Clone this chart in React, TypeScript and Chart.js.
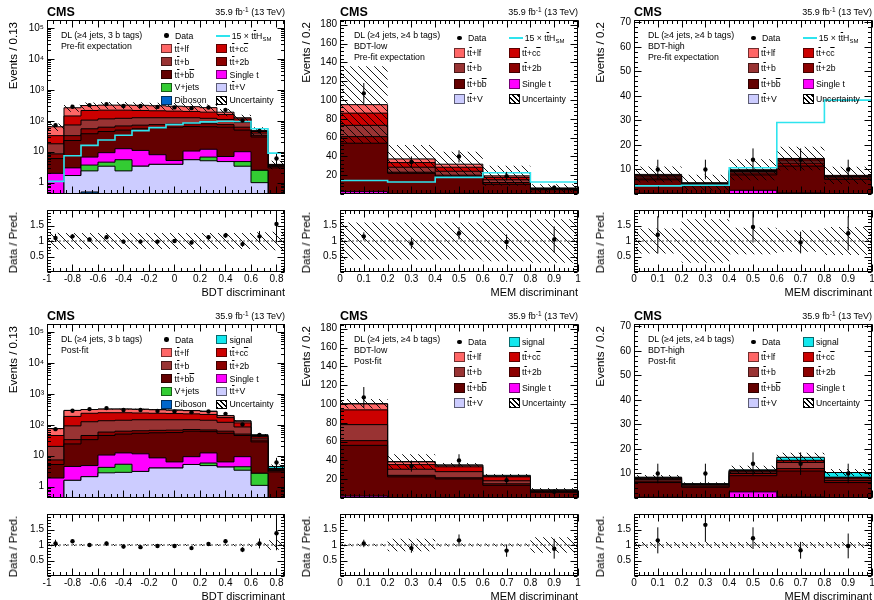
import React, { useEffect, useRef } from 'react';
import { Chart, registerables } from 'chart.js';

Chart.register(...registerables);

const FONT = '"Liberation Sans", Arial, Helvetica, sans-serif';

// ---------------- binning & axis ticks ----------------
const BDT_EDGES = [-1, -0.8667, -0.7333, -0.6, -0.4667, -0.3333, -0.2, -0.0667, 0.0667, 0.2, 0.3333, 0.4667, 0.6, 0.7333, 0.8667];
const MEM_EDGES = [0, 0.2, 0.4, 0.6, 0.8, 1.0];
const BDT_TICKS = [-1, -0.8, -0.6, -0.4, -0.2, 0, 0.2, 0.4, 0.6, 0.8];
const BDT_TICK_LABELS = ['-1', '-0.8', '-0.6', '-0.4', '-0.2', '0', '0.2', '0.4', '0.6', '0.8'];
const MEM_TICKS = [0, 0.1, 0.2, 0.3, 0.4, 0.5, 0.6, 0.7, 0.8, 0.9, 1];
const MEM_TICK_LABELS = ['0', '0.1', '0.2', '0.3', '0.4', '0.5', '0.6', '0.7', '0.8', '0.9', '1'];
const LOG_TICKS = [1, 10, 100, 1000, 10000, 100000];
const LOG_TICK_LABELS = ['1', '10', '10²', '10³', '10⁴', '10⁵'];
const LOW_TICKS = [20, 40, 60, 80, 100, 120, 140, 160, 180];
const LOW_TICK_LABELS = ['20', '40', '60', '80', '100', '120', '140', '160', '180'];
const HIGH_TICKS = [10, 20, 30, 40, 50, 60, 70];
const HIGH_TICK_LABELS = ['10', '20', '30', '40', '50', '60', '70'];
const RATIO_TICKS = [0.5, 1, 1.5];
const RATIO_TICK_LABELS = ['0.5', '1', '1.5'];

// ---------------- 3 b-tag category (BDT, 14 bins) ----------------
const DATA3B = [72, 285, 320, 345, 300, 300, 280, 270, 255, 268, 225, 102, 47, 6];
const DATA3B_ERR = [8.5, 17, 18, 18.5, 17, 17, 17, 16.5, 16, 16.5, 15, 10, 7, 2.5];

const PRE3B_DIBOSON = [0, 0, 0.5, 0, 0, 0, 0, 0, 0, 0, 0, 0, 0, 0];
const PRE3B_TTV = [0, 1.7, 1.9, 3.4, 2.4, 3.4, 3.9, 3.9, 5.5, 5.1, 4.8, 3.4, 1.0, 0];
const PRE3B_VJETS = [0, 0, 1.3, 1.2, 3.1, 0, 0, 0, 0, 1.6, 0, 1.4, 1.5, 0];
const PRE3B_SINGLET = [2.0, 1.3, 3.0, 4.7, 7.0, 7.6, 4.1, 1.3, 5.0, 5.3, 2.2, 5.2, 0, 0];
const PRE3B_TTBB = [4.0, 20, 31.3, 35.7, 37.5, 44, 50, 56.8, 54.5, 52, 55, 40, 27.5, 3.0];
const PRE3B_TT2B = [2.5, 10, 17, 17, 18, 17, 17, 16, 15, 16, 13, 12, 4, 0.3];
const PRE3B_TTB = [9.5, 40, 50, 53, 52, 53, 50, 47, 45, 40, 35, 28, 6, 0.3];
const PRE3B_TTCC = [15, 70, 110, 105, 100, 90, 85, 80, 75, 70, 50, 25, 5, 0.2];
const PRE3B_TTLF = [31, 120, 95, 100, 100, 100, 95, 90, 85, 75, 29, 10, 3, 0.1];
const PRE3B_TTH15 = [1.1, 7.4, 16, 24, 34, 48, 60, 75, 85, 92, 96, 95, 55, 9];
const PRE3B_UNC = [0.27, 0.26, 0.26, 0.26, 0.26, 0.26, 0.26, 0.26, 0.26, 0.26, 0.26, 0.26, 0.28, 0.3];
const PRE3B_RATIO = [1.1, 1.15, 1.05, 1.12, 0.98, 0.98, 0.98, 1.0, 0.95, 1.12, 1.18, 0.9, 1.15, 1.55];
const PRE3B_RATIO_ERR = [0.13, 0.07, 0.06, 0.06, 0.06, 0.06, 0.06, 0.06, 0.06, 0.07, 0.08, 0.09, 0.17, 0.6];
const PRE3B_RATIO_UNC = [0.27, 0.26, 0.26, 0.26, 0.26, 0.26, 0.26, 0.26, 0.26, 0.26, 0.26, 0.26, 0.28, 0.3];

const POST3B_DIBOSON = [0, 0, 0, 0, 0, 0, 0, 0, 0, 0, 0, 0, 0, 0];
const POST3B_TTV = [0, 1.6, 2.1, 2.8, 2.9, 3.1, 4.0, 4.0, 5.2, 4.8, 4.3, 3.4, 1.1, 0];
const POST3B_VJETS = [0, 0, 0, 1.4, 2.4, 0, 0, 0, 0, 1.0, 0, 1.0, 1.6, 0];
const POST3B_SINGLET = [1.9, 2.9, 2.7, 6.3, 7.0, 8.4, 4.5, 2.3, 4.1, 6.5, 2.0, 4.9, 0, 0];
const POST3B_TTBB = [3.3, 19.5, 28.2, 34.5, 37.7, 41.5, 46.5, 49.7, 52.7, 47.7, 46.7, 35.7, 25.3, 3.0];
const POST3B_TT2B = [2.1, 9, 12, 13, 12, 11, 11, 11, 8, 8, 9, 5, 4, 0.3];
const POST3B_TTB = [12.7, 59, 80, 77, 78, 81, 79, 78, 75, 72, 58, 35, 5, 0.3];
const POST3B_TTCC = [25, 94, 110, 110, 105, 95, 90, 85, 80, 75, 50, 30, 5, 0.2];
const POST3B_TTLF = [30, 104, 75, 75, 75, 75, 70, 65, 60, 55, 25, 15, 3, 0.1];
const POST3B_SIGNAL = [0.05, 0.4, 0.8, 1.1, 1.6, 2.3, 2.9, 3.5, 4.0, 4.3, 4.5, 4.5, 2.7, 0.6];
const POST3B_UNC = [0.04, 0.03, 0.03, 0.03, 0.03, 0.03, 0.03, 0.03, 0.03, 0.03, 0.03, 0.04, 0.06, 0.15];
const POST3B_RATIO = [1.05, 1.12, 1.0, 1.05, 0.95, 0.93, 0.97, 0.97, 0.9, 1.03, 1.12, 0.85, 1.05, 1.38];
const POST3B_RATIO_ERR = [0.12, 0.06, 0.06, 0.06, 0.06, 0.06, 0.06, 0.06, 0.06, 0.06, 0.07, 0.08, 0.16, 0.55];
const POST3B_RATIO_UNC = [0.04, 0.03, 0.03, 0.03, 0.03, 0.03, 0.03, 0.03, 0.03, 0.03, 0.03, 0.04, 0.06, 0.15];

// ---------------- >=4 b-tag, BDT-low (MEM, 5 bins) ----------------
const DATA4BL = [107, 34, 40, 19, 6.6];
const DATA4BL_ERR = [11, 6, 6.5, 4.5, 2.6];

const PRE4BL_TTV = [0.3, 0.2, 0.2, 0.1, 0.05];
const PRE4BL_SINGLET = [2.2, 0.3, 0.5, 0.2, 0.05];
const PRE4BL_TTBB = [51.5, 21.5, 18, 10, 4.5];
const PRE4BL_TT2B = [7, 1.2, 1.3, 1.9, 0.6];
const PRE4BL_TTB = [12, 5.3, 4.2, 2.9, 0.5];
const PRE4BL_TTCC = [13, 4.9, 4.3, 2.6, 0.4];
const PRE4BL_TTLF = [9, 3.9, 3.2, 1.6, 0.2];
const PRE4BL_TTH15 = [14.4, 12.8, 17.7, 22.6, 12.8];
const PRE4BL_UNC = [0.43, 0.4, 0.42, 0.55, 0.65];
const PRE4BL_RATIO = [1.15, 0.92, 1.25, 0.97, 1.05];
const PRE4BL_RATIO_ERR = [0.13, 0.17, 0.2, 0.24, 0.42];
const PRE4BL_RATIO_UNC = [0.6, 0.6, 0.6, 0.65, 0.7];

const POST4BL_TTV = [0.3, 0.2, 0.2, 0.1, 0.05];
const POST4BL_SINGLET = [1.7, 0.3, 0.4, 0.2, 0.05];
const POST4BL_TTBB = [54, 22, 19.7, 13.2, 5.9];
const POST4BL_TT2B = [5, 1.6, 1.2, 1.6, 0.8];
const POST4BL_TTB = [17, 6.5, 6.5, 3.2, 0.8];
const POST4BL_TTCC = [15.7, 4.9, 5.2, 4.2, 0.6];
const POST4BL_TTLF = [6.3, 2.9, 1.6, 0.6, 0.2];
const POST4BL_SIGNAL = [0.3, 0.3, 0.4, 1.0, 0.2];
const POST4BL_UNC = [0.05, 0.2, 0.06, 0.06, 0.25];
const POST4BL_RATIO = [1.05, 0.9, 1.15, 0.82, 0.88];
const POST4BL_RATIO_ERR = [0.12, 0.15, 0.19, 0.2, 0.32];
const POST4BL_RATIO_UNC = [0.04, 0.2, 0.05, 0.05, 0.25];

// ---------------- >=4 b-tag, BDT-high (MEM, 5 bins) ----------------
const DATA4BH = [10, 10, 14, 14, 10];
const DATA4BH_ERR = [4, 4, 4.6, 4.6, 4];

const PRE4BH_TTV = [0.1, 0.05, 0.1, 0.1, 0.1];
const PRE4BH_SINGLET = [0.2, 0.15, 1.4, 0.3, 0.1];
const PRE4BH_TTBB = [5.5, 3.2, 6.3, 11.0, 5.8];
const PRE4BH_TT2B = [0.7, 0.4, 0.8, 1.2, 0.6];
const PRE4BH_TTB = [0.5, 0.4, 0.6, 0.9, 0.5];
const PRE4BH_TTCC = [0.5, 0.2, 0.4, 0.7, 0.3];
const PRE4BH_TTLF = [0.5, 0.2, 0.3, 0.3, 0.2];
const PRE4BH_TTH15 = [3.3, 3.6, 10.7, 29.2, 38.3];
const PRE4BH_UNC = [0.4, 0.7, 0.43, 0.33, 0.46];
const PRE4BH_RATIO: (number | null)[] = [1.2, null, 1.45, 0.95, 1.25];
const PRE4BH_RATIO_ERR = [0.6, 0, 0.5, 0.35, 0.55];
const PRE4BH_RATIO_UNC = [0.4, 0.7, 0.43, 0.35, 0.45];

const POST4BH_TTV = [0.1, 0.05, 0.1, 0.1, 0.1];
const POST4BH_SINGLET = [0.2, 0.15, 2.4, 0.3, 0.1];
const POST4BH_TTBB = [6.0, 4.2, 6.6, 10.6, 6.1];
const POST4BH_TT2B = [0.6, 0.5, 0.9, 1.0, 0.8];
const POST4BH_TTB = [0.6, 0.4, 0.6, 2.5, 0.7];
const POST4BH_TTCC = [0.5, 0.25, 0.4, 0.7, 0.5];
const POST4BH_TTLF = [0.3, 0.15, 0.2, 0.2, 0.2];
const POST4BH_SIGNAL = [0.2, 0.15, 0.3, 1.2, 1.9];
const POST4BH_UNC = [0.1, 0.1, 0.14, 0.11, 0.14];
const POST4BH_RATIO = [1.15, 1.65, 1.22, 0.83, 0.97];
const POST4BH_RATIO_ERR = [0.42, 0.55, 0.35, 0.27, 0.4];
const POST4BH_RATIO_UNC = [0.1, 0.1, 0.1, 0.1, 0.1];

// ---------------- colours ----------------
const C_TTLF = '#ff6666';
const C_TTCC = '#cc0000';
const C_TTB = '#993333';
const C_TT2B = '#8c0000';
const C_TTBB = '#640000';
const C_SINGLET = '#ff00ff';
const C_VJETS = '#33cc33';
const C_DIBOSON = '#0066cc';
const C_TTV = '#ccccff';
const C_SIGNAL = '#12e8ee';
const C_TTH = '#2ee4ee';

// ---------------- layout ----------------
const COLS = [47, 340, 634];
const ROWS = [20, 324];
const PW = 238;
const MH = 190;
const RH = 62;

// ---------------- helpers ----------------
const seq = (a: number, b: number, step: number) => {
  const out: number[] = [];
  const n = Math.round((b - a) / step);
  for (let i = 0; i <= n; i++) out.push(+(a + i * step).toFixed(6));
  return out;
};
const LOG_MINOR = (() => {
  const o: number[] = [];
  for (let d = -1; d <= 5; d++) for (let k = 2; k <= 9; k++) o.push(k * Math.pow(10, d));
  return o;
})();

// step outline: point i carries bin i's value; with stepped 'before' the line stays
// at bin i's value from edge i to edge i+1
const steps = (edges: number[], vals: number[]) =>
  edges.map((x, i) => ({ x, y: vals[Math.min(i, vals.length - 1)] }));

const errSegs = (xs: number[], lo: (number | null)[], hi: (number | null)[]) => {
  const out: any[] = [];
  xs.forEach((x, i) => {
    if (lo[i] == null || hi[i] == null) return;
    out.push({ x, y: lo[i] }, { x, y: hi[i] }, { x, y: null });
  });
  return out;
};

function makeHatch(ctx: CanvasRenderingContext2D, size = 8) {
  const c = document.createElement('canvas');
  c.width = size;
  c.height = size;
  const g = c.getContext('2d')!;
  g.strokeStyle = 'rgba(0,0,0,0.9)';
  g.lineWidth = 1;
  g.beginPath();
  g.moveTo(-1, -1);
  g.lineTo(size + 1, size + 1);
  g.stroke();
  return ctx.createPattern(c, 'repeat');
}

const framePlugin = {
  id: 'rootFrame',
  afterDatasetsDraw(chart: any, _a: any, o: any) {
    const { ctx, chartArea } = chart;
    const xs = chart.scales.x;
    const ys = chart.scales.y;
    const L = Math.round(chartArea.left) + 0.5;
    const R = Math.round(chartArea.right) - 0.5;
    const T = Math.round(chartArea.top) + 0.5;
    const B = Math.round(chartArea.bottom) - 0.5;
    ctx.save();
    ctx.strokeStyle = '#000';
    ctx.lineWidth = 1;
    ctx.beginPath();
    const inX = (v: number) => v >= xs.min - 1e-9 && v <= xs.max + 1e-9;
    const inY = (v: number) => v >= ys.min && v <= ys.max;
    const xt = (vals: number[], len: number) =>
      vals.filter(inX).forEach((v) => {
        const p = Math.round(xs.getPixelForValue(v)) + 0.5;
        ctx.moveTo(p, B);
        ctx.lineTo(p, B - len);
        ctx.moveTo(p, T);
        ctx.lineTo(p, T + len);
      });
    const yt = (vals: number[], len: number) =>
      vals.filter(inY).forEach((v) => {
        const p = Math.round(ys.getPixelForValue(v)) + 0.5;
        ctx.moveTo(L, p);
        ctx.lineTo(L + len, p);
        ctx.moveTo(R, p);
        ctx.lineTo(R - len, p);
      });
    xt(o.xMajor || [], 7);
    xt(o.xMinor || [], 3.5);
    yt(o.yMajor || [], 7);
    yt(o.yMinor || [], 3.5);
    ctx.stroke();
    ctx.strokeRect(L, T, R - L, B - T);
    ctx.restore();
  },
};

type Comp = { vals: number[]; color: string };
type PanelDef = {
  col: number;
  row: number;
  edges: number[];
  xTicks: number[];
  xTickLabels: string[];
  xMinor: number[];
  log: boolean;
  ymin: number;
  ymax: number;
  yTicks: number[];
  yTickLabels: string[];
  yMinor: number[];
  comps: Comp[];
  unc: number[];
  ttH?: number[];
  data: number[];
  dataErr: number[];
  ratio: (number | null)[];
  ratioErr: number[];
  ratioUnc: number[];
  yTitle: string;
  xTitle: string;
  lines: string[];
  threeB: boolean;
  post: boolean;
};

const comps3b = (d: number[], v: number[], vj: number[], st: number[], bb: number[], b2: number[], b: number[], cc: number[], lf: number[], sig?: number[]): Comp[] => {
  const c: Comp[] = [
    { vals: d, color: C_DIBOSON },
    { vals: v, color: C_TTV },
    { vals: vj, color: C_VJETS },
    { vals: st, color: C_SINGLET },
    { vals: bb, color: C_TTBB },
    { vals: b2, color: C_TT2B },
    { vals: b, color: C_TTB },
    { vals: cc, color: C_TTCC },
    { vals: lf, color: C_TTLF },
  ];
  if (sig) c.push({ vals: sig, color: C_SIGNAL });
  return c;
};
const comps4b = (v: number[], st: number[], bb: number[], b2: number[], b: number[], cc: number[], lf: number[], sig?: number[]): Comp[] => {
  const c: Comp[] = [
    { vals: v, color: C_TTV },
    { vals: st, color: C_SINGLET },
    { vals: bb, color: C_TTBB },
    { vals: b2, color: C_TT2B },
    { vals: b, color: C_TTB },
    { vals: cc, color: C_TTCC },
    { vals: lf, color: C_TTLF },
  ];
  if (sig) c.push({ vals: sig, color: C_SIGNAL });
  return c;
};

const BDT_AX = { edges: BDT_EDGES, xTicks: BDT_TICKS, xTickLabels: BDT_TICK_LABELS, xMinor: seq(-1, 0.85, 0.05), xTitle: 'BDT discriminant' };
const MEM_AX = { edges: MEM_EDGES, xTicks: MEM_TICKS, xTickLabels: MEM_TICK_LABELS, xMinor: seq(0, 1, 0.02), xTitle: 'MEM discriminant' };
const LOG_AX = { log: true, ymin: 0.43, ymax: 180000, yTicks: LOG_TICKS, yTickLabels: LOG_TICK_LABELS, yMinor: LOG_MINOR, yTitle: 'Events / 0.13' };
const LOW_AX = { log: false, ymin: 0, ymax: 185, yTicks: LOW_TICKS, yTickLabels: LOW_TICK_LABELS, yMinor: seq(0, 184, 4), yTitle: 'Events / 0.2' };
const HIGH_AX = { log: false, ymin: 0, ymax: 71, yTicks: HIGH_TICKS, yTickLabels: HIGH_TICK_LABELS, yMinor: seq(0, 70, 2), yTitle: 'Events / 0.2' };

const PANELS: PanelDef[] = [
  {
    col: 0, row: 0, ...BDT_AX, ...LOG_AX,
    comps: comps3b(PRE3B_DIBOSON, PRE3B_TTV, PRE3B_VJETS, PRE3B_SINGLET, PRE3B_TTBB, PRE3B_TT2B, PRE3B_TTB, PRE3B_TTCC, PRE3B_TTLF),
    unc: PRE3B_UNC, ttH: PRE3B_TTH15, data: DATA3B, dataErr: DATA3B_ERR,
    ratio: PRE3B_RATIO, ratioErr: PRE3B_RATIO_ERR, ratioUnc: PRE3B_RATIO_UNC,
    lines: ['DL (≥4 jets, 3 b tags)', 'Pre-fit expectation'], threeB: true, post: false,
  },
  {
    col: 1, row: 0, ...MEM_AX, ...LOW_AX,
    comps: comps4b(PRE4BL_TTV, PRE4BL_SINGLET, PRE4BL_TTBB, PRE4BL_TT2B, PRE4BL_TTB, PRE4BL_TTCC, PRE4BL_TTLF),
    unc: PRE4BL_UNC, ttH: PRE4BL_TTH15, data: DATA4BL, dataErr: DATA4BL_ERR,
    ratio: PRE4BL_RATIO, ratioErr: PRE4BL_RATIO_ERR, ratioUnc: PRE4BL_RATIO_UNC,
    lines: ['DL (≥4 jets, ≥4 b tags)', 'BDT-low', 'Pre-fit expectation'], threeB: false, post: false,
  },
  {
    col: 2, row: 0, ...MEM_AX, ...HIGH_AX,
    comps: comps4b(PRE4BH_TTV, PRE4BH_SINGLET, PRE4BH_TTBB, PRE4BH_TT2B, PRE4BH_TTB, PRE4BH_TTCC, PRE4BH_TTLF),
    unc: PRE4BH_UNC, ttH: PRE4BH_TTH15, data: DATA4BH, dataErr: DATA4BH_ERR,
    ratio: PRE4BH_RATIO, ratioErr: PRE4BH_RATIO_ERR, ratioUnc: PRE4BH_RATIO_UNC,
    lines: ['DL (≥4 jets, ≥4 b tags)', 'BDT-high', 'Pre-fit expectation'], threeB: false, post: false,
  },
  {
    col: 0, row: 1, ...BDT_AX, ...LOG_AX,
    comps: comps3b(POST3B_DIBOSON, POST3B_TTV, POST3B_VJETS, POST3B_SINGLET, POST3B_TTBB, POST3B_TT2B, POST3B_TTB, POST3B_TTCC, POST3B_TTLF, POST3B_SIGNAL),
    unc: POST3B_UNC, data: DATA3B, dataErr: DATA3B_ERR,
    ratio: POST3B_RATIO, ratioErr: POST3B_RATIO_ERR, ratioUnc: POST3B_RATIO_UNC,
    lines: ['DL (≥4 jets, 3 b tags)', 'Post-fit'], threeB: true, post: true,
  },
  {
    col: 1, row: 1, ...MEM_AX, ...LOW_AX,
    comps: comps4b(POST4BL_TTV, POST4BL_SINGLET, POST4BL_TTBB, POST4BL_TT2B, POST4BL_TTB, POST4BL_TTCC, POST4BL_TTLF, POST4BL_SIGNAL),
    unc: POST4BL_UNC, data: DATA4BL, dataErr: DATA4BL_ERR,
    ratio: POST4BL_RATIO, ratioErr: POST4BL_RATIO_ERR, ratioUnc: POST4BL_RATIO_UNC,
    lines: ['DL (≥4 jets, ≥4 b tags)', 'BDT-low', 'Post-fit'], threeB: false, post: true,
  },
  {
    col: 2, row: 1, ...MEM_AX, ...HIGH_AX,
    comps: comps4b(POST4BH_TTV, POST4BH_SINGLET, POST4BH_TTBB, POST4BH_TT2B, POST4BH_TTB, POST4BH_TTCC, POST4BH_TTLF, POST4BH_SIGNAL),
    unc: POST4BH_UNC, data: DATA4BH, dataErr: DATA4BH_ERR,
    ratio: POST4BH_RATIO, ratioErr: POST4BH_RATIO_ERR, ratioUnc: POST4BH_RATIO_UNC,
    lines: ['DL (≥4 jets, ≥4 b tags)', 'BDT-high', 'Post-fit'], threeB: false, post: true,
  },
];

const tickFont = { family: FONT, size: 10 };
const STEP = 'before';

function baseOptions(p: PanelDef, isRatio: boolean) {
  const n = p.edges.length - 1;
  return {
    responsive: false,
    animation: false,
    events: [],
    layout: { padding: { left: 0, right: 10, top: 12, bottom: isRatio ? 14 : 12 } },
    plugins: {
      legend: { display: false },
      tooltip: { enabled: false },
      rootFrame: isRatio
        ? { xMajor: p.xTicks, xMinor: p.xMinor, yMajor: RATIO_TICKS, yMinor: seq(0, 2, 0.1) }
        : { xMajor: p.xTicks, xMinor: p.xMinor, yMajor: p.yTicks, yMinor: p.yMinor },
    },
    scales: {
      x: {
        type: 'linear',
        min: p.edges[0],
        max: p.edges[n],
        display: isRatio,
        afterFit: (s: any) => { s.height = 16; },
        afterBuildTicks: (s: any) => { s.ticks = p.xTicks.map((v) => ({ value: v })); },
        ticks: {
          callback: (_v: any, i: number) => p.xTickLabels[i],
          autoSkip: false,
          maxRotation: 0,
          minRotation: 0,
          padding: 1,
          font: tickFont,
          color: '#000',
        },
        grid: { display: false, drawTicks: false },
        border: { display: false },
      },
      y: {
        type: isRatio ? 'linear' : p.log ? 'logarithmic' : 'linear',
        min: isRatio ? 0 : p.ymin,
        max: isRatio ? 2 : p.ymax,
        afterFit: (s: any) => { s.width = 40; },
        afterBuildTicks: (s: any) => {
          s.ticks = (isRatio ? RATIO_TICKS : p.yTicks).map((v) => ({ value: v }));
        },
        ticks: {
          callback: (_v: any, i: number) => (isRatio ? RATIO_TICK_LABELS : p.yTickLabels)[i],
          autoSkip: false,
          padding: 3,
          font: tickFont,
          color: '#000',
        },
        grid: { display: false, drawTicks: false },
        border: { display: false },
      },
    },
  };
}

function mainConfig(p: PanelDef, ctx: CanvasRenderingContext2D) {
  const hatch = makeHatch(ctx);
  const n = p.edges.length - 1;
  const centers = p.edges.slice(0, n).map((e, i) => (e + p.edges[i + 1]) / 2);
  const fl = (v: number) => (p.log ? Math.max(v, 1e-3) : v);
  const ds: any[] = [];
  let cum = new Array(n).fill(0);
  p.comps.forEach((c, k) => {
    cum = cum.map((v, i) => v + c.vals[i]);
    ds.push({
      data: steps(p.edges, cum.map(fl)), stepped: STEP, fill: 'start',
      backgroundColor: c.color, borderColor: '#000', borderWidth: 1, pointRadius: 0, order: 20 + k,
    });
  });
  ds.push({
    data: steps(p.edges, cum.map((v, i) => fl(v * (1 - p.unc[i])))), stepped: STEP, fill: false,
    borderColor: 'rgba(0,0,0,0)', borderWidth: 0, pointRadius: 0, order: 3,
  });
  ds.push({
    data: steps(p.edges, cum.map((v, i) => v * (1 + p.unc[i]))), stepped: STEP, fill: '-1',
    backgroundColor: hatch, borderColor: 'rgba(0,0,0,0)', borderWidth: 0, pointRadius: 0, order: 3,
  });
  if (p.ttH) {
    ds.push({ data: steps(p.edges, p.ttH), stepped: STEP, fill: false, borderColor: C_TTH, borderWidth: 1.6, pointRadius: 0, order: 2 });
  }
  ds.push({
    data: errSegs(centers, p.data.map((v, i) => v - p.dataErr[i]), p.data.map((v, i) => v + p.dataErr[i])),
    fill: false, borderColor: '#000', borderWidth: 1, pointRadius: 0, spanGaps: false, order: 1,
  });
  ds.push({
    data: centers.map((x, i) => ({ x, y: p.data[i] })), showLine: false, pointRadius: 2.2,
    pointBackgroundColor: '#000', pointBorderColor: '#000', pointBorderWidth: 0, order: 0,
  });
  return { type: 'line', data: { datasets: ds }, options: baseOptions(p, false), plugins: [framePlugin] };
}

function ratioConfig(p: PanelDef, ctx: CanvasRenderingContext2D) {
  const hatch = makeHatch(ctx);
  const n = p.edges.length - 1;
  const centers = p.edges.slice(0, n).map((e, i) => (e + p.edges[i + 1]) / 2);
  const ds: any[] = [];
  ds.push({
    data: steps(p.edges, p.ratioUnc.map((u) => 1 - u)), stepped: STEP, fill: false,
    borderColor: 'rgba(0,0,0,0)', borderWidth: 0, pointRadius: 0, order: 5,
  });
  ds.push({
    data: steps(p.edges, p.ratioUnc.map((u) => 1 + u)), stepped: STEP, fill: '-1',
    backgroundColor: hatch, borderColor: 'rgba(0,0,0,0)', borderWidth: 0, pointRadius: 0, order: 5,
  });
  ds.push({
    data: [{ x: p.edges[0], y: 1 }, { x: p.edges[n], y: 1 }], fill: false, borderColor: '#444',
    borderWidth: 1, borderDash: [2, 2], pointRadius: 0, order: 4,
  });
  ds.push({
    data: errSegs(
      centers,
      p.ratio.map((v, i) => (v == null ? null : v - p.ratioErr[i])),
      p.ratio.map((v, i) => (v == null ? null : v + p.ratioErr[i])),
    ),
    fill: false, borderColor: '#000', borderWidth: 1, pointRadius: 0, spanGaps: false, order: 1,
  });
  ds.push({
    data: centers.map((x, i) => ({ x, y: p.ratio[i] })), showLine: false, pointRadius: 2.2,
    pointBackgroundColor: '#000', pointBorderColor: '#000', pointBorderWidth: 0, order: 0,
  });
  return { type: 'line', data: { datasets: ds }, options: baseOptions(p, true), plugins: [framePlugin] };
}

function ChartCanvas({ left, top, width, height, make }: { left: number; top: number; width: number; height: number; make: (ctx: CanvasRenderingContext2D) => any }) {
  const ref = useRef<HTMLCanvasElement>(null);
  useEffect(() => {
    const cv = ref.current!;
    const ctx = cv.getContext('2d')!;
    const chart = new Chart(ctx, make(ctx));
    return () => chart.destroy();
  }, []);
  return (
    <canvas
      ref={ref}
      width={width}
      height={height}
      style={{ position: 'absolute', left, top, width, height }}
    />
  );
}

// ---------------- text / legend overlay ----------------
const OL = ({ children }: { children: any }) => <span style={{ textDecoration: 'overline' }}>{children}</span>;
const TT = () => (<>t<OL>t</OL></>);

const LBL: Record<string, any> = {
  data: 'Data',
  ttH: (<>15 × <TT />H<span style={{ fontSize: 6, position: 'relative', top: 2 }}>SM</span></>),
  signal: 'signal',
  lf: (<><TT />+lf</>),
  cc: (<><TT />+c<OL>c</OL></>),
  b: (<><TT />+b</>),
  b2: (<><TT />+2b</>),
  bb: (<><TT />+b<OL>b</OL></>),
  st: 'Single t',
  vj: 'V+jets',
  ttv: (<><TT />+V</>),
  dib: 'Diboson',
  unc: 'Uncertainty',
};
const LCOL: Record<string, string> = {
  signal: C_SIGNAL, lf: C_TTLF, cc: C_TTCC, b: C_TTB, b2: C_TT2B, bb: C_TTBB, st: C_SINGLET, vj: C_VJETS, ttv: C_TTV, dib: C_DIBOSON,
};

const LEG_FS = 8.7;

function Marker({ kind, x, yc, w, h }: { kind: string; x: number; yc: number; w: number; h: number }) {
  if (kind === 'data') {
    return <div style={{ position: 'absolute', left: x + w / 2 - 2.2, top: yc - 2.2, width: 4.4, height: 4.4, borderRadius: '50%', background: '#000' }} />;
  }
  if (kind === 'ttH') {
    return <div style={{ position: 'absolute', left: x, top: yc - 1, width: w + 3, height: 2, background: C_TTH }} />;
  }
  if (kind === 'unc') {
    return (
      <div
        style={{
          position: 'absolute', left: x, top: yc - h / 2, width: w, height: h, boxSizing: 'border-box',
          border: '1px solid #000', background: 'repeating-linear-gradient(45deg, #000 0px, #000 1px, #fff 1px, #fff 3.5px)',
        }}
      />
    );
  }
  return (
    <div
      style={{
        position: 'absolute', left: x, top: yc - h / 2, width: w, height: h, boxSizing: 'border-box',
        border: '1px solid rgba(0,0,0,0.55)', background: LCOL[kind],
      }}
    />
  );
}

function PanelText({ p }: { p: PanelDef }) {
  const L = COLS[p.col];
  const T = ROWS[p.row];
  const rowsY = p.threeB ? [15.5, 28.5, 41.5, 54.5, 67, 80] : [17.8, 32.5, 48, 63.5, 78.7];
  const bw = p.threeB ? 11.3 : 10.7;
  const bh = p.threeB ? 9 : 10;
  const first = p.post ? 'signal' : 'ttH';
  const grid: [string, string][] = p.threeB
    ? [['data', first], ['lf', 'cc'], ['b', 'b2'], ['bb', 'st'], ['vj', 'ttv'], ['dib', 'unc']]
    : [['data', first], ['lf', 'cc'], ['b', 'b2'], ['bb', 'st'], ['ttv', 'unc']];
  const colX = [L + 114, L + 169];
  const items: any[] = [];
  grid.forEach((row, r) => {
    row.forEach((kind, c) => {
      const x = colX[c];
      const yc = T + rowsY[r];
      const tx = kind === 'data' ? x + 14 : kind === 'ttH' ? x + 15.7 : x + bw + 2.3;
      items.push(<Marker key={`m${r}${c}`} kind={kind} x={x} yc={yc} w={bw} h={bh} />);
      items.push(
        <div key={`t${r}${c}`} style={{ position: 'absolute', left: tx, top: yc - 6, height: 12, lineHeight: '12px', fontSize: LEG_FS, whiteSpace: 'nowrap', color: '#000' }}>
          {LBL[kind]}
        </div>,
      );
    });
  });
  const txt = (s: any, left: number, yc: number, fs: number, extra: any = {}) => (
    <div style={{ position: 'absolute', left, top: yc - fs * 0.6, lineHeight: `${fs * 1.2}px`, fontSize: fs, whiteSpace: 'nowrap', color: '#000', ...extra }}>{s}</div>
  );
  const right = 874 - (L + PW);
  return (
    <>
      <div style={{ position: 'absolute', left: L, top: T - 8 - 7.5, lineHeight: '15px', fontSize: 12.5, fontWeight: 'bold', color: '#000' }}>CMS</div>
      <div style={{ position: 'absolute', right, top: T - 8 - 6, lineHeight: '12px', fontSize: 9, whiteSpace: 'nowrap', color: '#000' }}>
        35.9 fb<span style={{ fontSize: 6.5, position: 'relative', top: -3 }}>-1</span> (13 TeV)
      </div>
      {p.lines.map((s, i) => <React.Fragment key={`l${i}`}>{txt(s, L + 14, T + 15 + i * 11.3, 8.8)}</React.Fragment>)}
      {items}
      <div style={{ position: 'absolute', left: L - 34.5 - 7, top: T + 1.5, width: 14, lineHeight: '14px', fontSize: 11.5, writingMode: 'vertical-rl', transform: 'rotate(180deg)', whiteSpace: 'nowrap', color: '#000' }}>
        {p.yTitle}
      </div>
      <div style={{ position: 'absolute', left: L - 34.5 - 7, top: T + MH + 1.5, width: 14, lineHeight: '14px', fontSize: 11.5, writingMode: 'vertical-rl', transform: 'rotate(180deg)', whiteSpace: 'nowrap', color: '#000' }}>
        Data / Pred.
      </div>
      <div style={{ position: 'absolute', right, top: T + MH + RH + 20 - 7, lineHeight: '14px', fontSize: 11, whiteSpace: 'nowrap', color: '#000' }}>
        {p.xTitle}
      </div>
    </>
  );
}

function Panel({ p }: { p: PanelDef }) {
  const L = COLS[p.col];
  const T = ROWS[p.row];
  return (
    <>
      <ChartCanvas left={L - 40} top={T - 12} width={PW + 50} height={MH + 24} make={(ctx) => mainConfig(p, ctx)} />
      <ChartCanvas left={L - 40} top={T + MH - 12} width={PW + 50} height={RH + 42} make={(ctx) => ratioConfig(p, ctx)} />
      <PanelText p={p} />
    </>
  );
}

export default function App() {
  return (
    <div style={{ position: 'absolute', left: 0, top: 0, width: 874, height: 600, background: '#fff', overflow: 'hidden', fontFamily: FONT }}>
      {PANELS.map((p, i) => <Panel key={i} p={p} />)}
    </div>
  );
}
